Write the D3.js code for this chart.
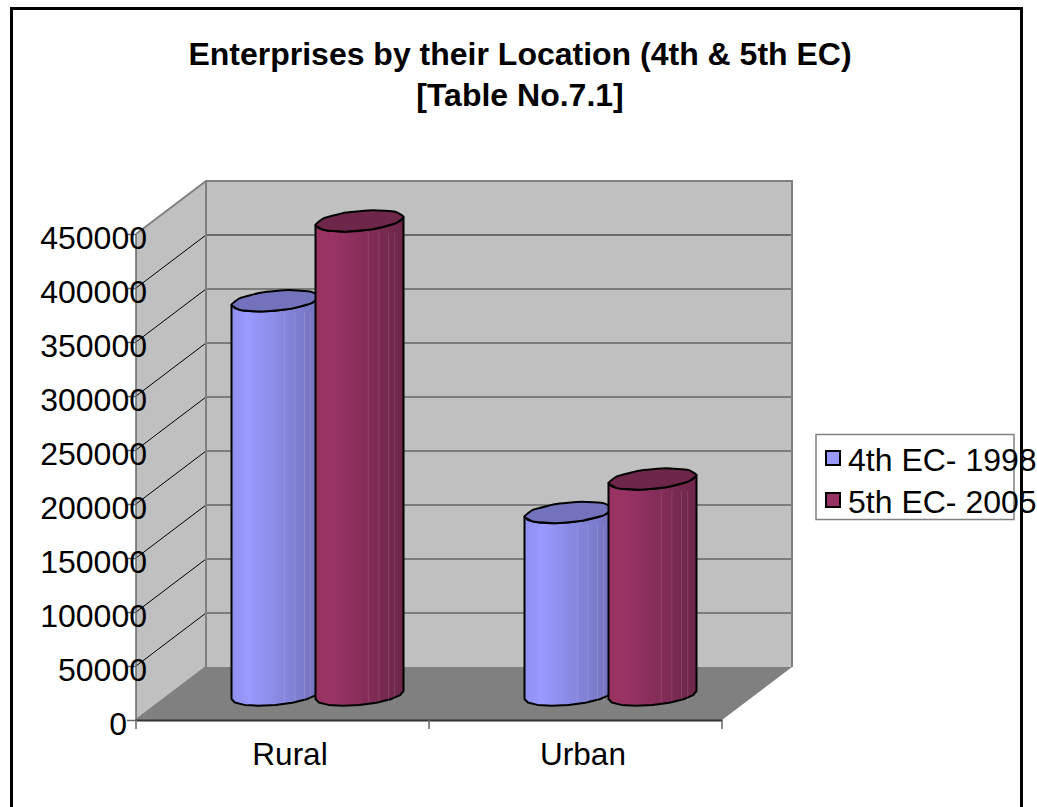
<!DOCTYPE html>
<html><head><meta charset="utf-8">
<script src="https://cdn.jsdelivr.net/npm/d3@7"></script>
<style>html,body{margin:0;padding:0;background:#fff}svg{display:block}text{font-family:"Liberation Sans",Arial,sans-serif;fill:#000}</style>
</head><body><svg id="c" width="1037" height="807"></svg>
<script>
const categories = ["Rural", "Urban"];
const seriesNames = ["4th EC- 1998", "5th EC- 2005"];
const values1998 = [365000, 169000];
const values2005 = [439000, 200000];
const yTicks = [0,50000,100000,150000,200000,250000,300000,350000,400000,450000];
const titleLines = ["Enterprises by their Location (4th & 5th EC)", "[Table No.7.1]"];
const palettes = [
  {light:"#9999ff", side:"#8f8ff0", dark:"#7272bb", top:"#7373bd"},
  {light:"#993366", side:"#96325f", dark:"#6c2649", top:"#6f264b"}
];

const svg = d3.select("#c");
const defs = svg.append("defs");
const L=136,R=722,B=720,T=234,DX=70,DY=-53;
const y = d3.scaleLinear().domain([0,450000]).range([B,T]);
const x = d3.scaleBand().domain(categories).range([L,R]);
const backY = v => y(v)+DY;

// frame
svg.append("rect").attr("x",11.5).attr("y",8.5).attr("width",1010).attr("height",830).attr("fill","#fff").attr("stroke","#000").attr("stroke-width",3);

// title
svg.append("g").selectAll("text").data(titleLines).join("text")
  .attr("x",520).attr("y",(d,i)=>65+i*41).attr("text-anchor","middle")
  .attr("font-weight","bold").attr("font-size",32).text(d=>d);

const poly = pts => "M"+pts.map(p=>p.join(",")).join("L")+"Z";
// walls
svg.append("path").attr("d",poly([[L+DX,B+DY],[R+DX,B+DY],[R+DX,T+DY],[L+DX,T+DY]])).attr("fill","#c0c0c0");
svg.append("path").attr("d",poly([[L,B],[L+DX,B+DY],[L+DX,T+DY],[L,T]])).attr("fill","#c0c0c0");
svg.append("path").attr("d",poly([[L,B],[R,B],[R+DX,B+DY],[L+DX,B+DY]])).attr("fill","#808080");
// gridlines
svg.append("g").selectAll("line").data(yTicks.slice(1,-1).concat([400000])).join("line")
  .attr("x1",L+DX).attr("x2",R+DX).attr("y1",backY).attr("y2",backY).attr("stroke","#666").attr("stroke-width",1.5);
svg.append("g").selectAll("line").data(yTicks.slice(1,-1)).join("line")
  .attr("x1",L).attr("x2",L+DX).attr("y1",d=>y(d)).attr("y2",backY).attr("stroke","#000").attr("stroke-width",1);
// wall edges
svg.append("path").attr("d",`M${L},${T}L${L+DX},${T+DY}L${R+DX},${T+DY}L${R+DX},${B+DY}`).attr("fill","none").attr("stroke","#808080").attr("stroke-width",2);
svg.append("path").attr("d",`M${L+DX},${T+DY}L${L+DX},${B+DY}L${L},${B}`).attr("fill","none").attr("stroke","#808080").attr("stroke-width",2);
svg.append("line").attr("x1",L).attr("x2",L).attr("y1",T).attr("y2",B).attr("stroke","#666").attr("stroke-width",1.5);

// axes
const ax = svg.append("g").attr("transform",`translate(${L},0)`).call(d3.axisLeft(y).tickValues(yTicks).tickSize(9).tickFormat(d3.format("d")));
ax.select(".domain").remove();
ax.selectAll("line").attr("stroke","#666").attr("stroke-width",1.5);
ax.selectAll("text").attr("font-size",32).attr("font-family",'"Liberation Sans"').attr("fill","#000")
  .attr("x",d=>d===0?-9:11).attr("dy",14).attr("text-anchor","end");

const bx = svg.append("g").attr("transform",`translate(0,${B})`).call(d3.axisBottom(x).tickSize(0));
bx.select(".domain").attr("stroke","#333").attr("stroke-width",2);
bx.selectAll("text").attr("font-size",31.5).attr("font-family",'"Liberation Sans"').attr("fill","#000")
  .attr("y",45).attr("dy",0).attr("dx",7.5);
svg.append("g").selectAll("line").data([L,(L+R)/2,R]).join("line")
  .attr("x1",d=>d).attr("x2",d=>d).attr("y1",B).attr("y2",B+9).attr("stroke","#666").attr("stroke-width",1.5);

// cylinders
const step=84, barW=88, depth=25, depthX=33, s=4, b=10;
const pos=d3.range(0,1.001,0.05);
palettes.forEach((p,i)=>{
  const g=defs.append("linearGradient").attr("id","g"+i);
  g.selectAll("stop").data(pos).join("stop").attr("offset",d=>d)
   .attr("stop-color",d=>d<0.2?d3.interpolateRgb(p.side,p.light)(d/0.2):d3.interpolateRgb(p.light,p.dark)((d-0.2)/0.8));
});
const facets=[0.6,0.72,0.83,0.9];
const arc=(cx,cy,t0,t1,n)=>d3.range(n+1).map(k=>{const t=t0+(t1-t0)*k/n;return [cx-barW/2*Math.cos(t),cy+s*Math.cos(t)+b*Math.sin(t)];});
const closed=d3.line().curve(d3.curveCardinalClosed.tension(0.6));
const rows=[values1998,values2005];
const groupCentres=categories.map(c=>x(c)+x.bandwidth()/2+depthX);
categories.forEach((c,ci)=>{
  rows.forEach((vals,si)=>{
    const cx=groupCentres[ci]+(si-0.5)*step+2;
    const base=y(0)-depth, top=y(vals[ci])-depth;
    const front=arc(cx,base,0,Math.PI,8).concat(arc(cx,top,Math.PI,0,8));
    svg.append("path").attr("d",d3.line()(front)+"Z").attr("fill",`url(#g${si})`)
       .attr("stroke","#000").attr("stroke-width",2).attr("stroke-linejoin","round");
    svg.append("g").selectAll("line").data(facets).join("line")
      .attr("x1",f=>cx-barW/2+f*barW).attr("x2",f=>cx-barW/2+f*barW)
      .attr("y1",top+12).attr("y2",base+7).attr("stroke","#fff").attr("stroke-opacity",0.12).attr("stroke-width",1);
    const cap=arc(cx,top,0,2*Math.PI,10).slice(0,-1);
    svg.append("path").attr("d",closed(cap)).attr("fill",palettes[si].top)
       .attr("stroke","#000").attr("stroke-width",2);
  });
});

// legend
svg.append("rect").attr("x",816).attr("y",434.5).attr("width",198).attr("height",85).attr("fill","#fff").attr("stroke","#808080").attr("stroke-width",1.5);
const lg=svg.append("g").selectAll("g").data(seriesNames).join("g");
lg.append("rect").attr("x",826).attr("y",(d,i)=>451+i*42).attr("width",14).attr("height",14)
  .attr("fill",(d,i)=>palettes[i].light).attr("stroke","#000").attr("stroke-width",2);
lg.append("text").attr("x",848).attr("y",(d,i)=>471+i*41.5).attr("font-size",32).text(d=>d);
</script></body></html>
